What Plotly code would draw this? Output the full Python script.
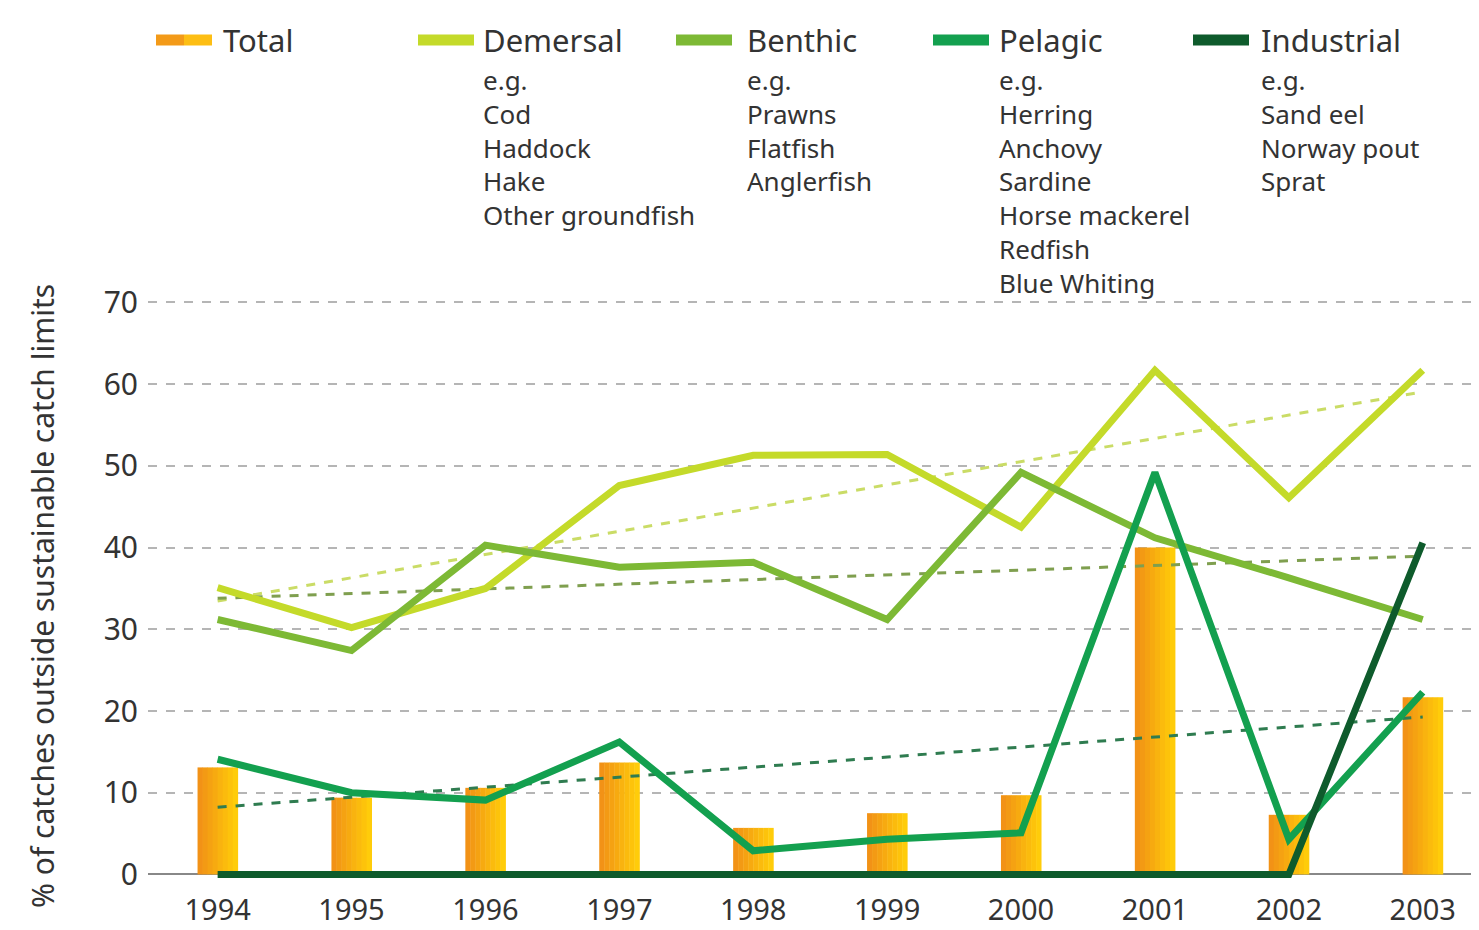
import numpy as np
import plotly.graph_objects as go

years = [1994, 1995, 1996, 1997, 1998, 1999, 2000, 2001, 2002, 2003]
total = [13.1, 9.4, 10.6, 13.7, 5.7, 7.5, 9.7, 40.0, 7.3, 21.7]
demersal = [35.1, 30.2, 35.0, 47.6, 51.3, 51.4, 42.5, 61.7, 46.1, 61.7]
benthic = [31.2, 27.4, 40.3, 37.6, 38.2, 31.2, 49.2, 41.2, 36.3, 31.2]
pelagic = [14.1, 10.0, 9.1, 16.2, 2.9, 4.3, 5.1, 49.2, 4.3, 22.3]
industrial = [0, 0, 0, 0, 0, 0, 0, 0, 0, 40.6]

y_ticks = [0, 10, 20, 30, 40, 50, 60, 70]

legend_titles = ["Total", "Demersal", "Benthic", "Pelagic", "Industrial"]
legend_examples = [
    [],
    ["e.g.", "Cod", "Haddock", "Hake", "Other groundfish"],
    ["e.g.", "Prawns", "Flatfish", "Anglerfish"],
    ["e.g.", "Herring", "Anchovy", "Sardine", "Horse mackerel", "Redfish", "Blue Whiting"],
    ["e.g.", "Sand eel", "Norway pout", "Sprat"],
]

C_DEM = "#C4DA2A"
C_BEN = "#7DB935"
C_PEL = "#13A04F"
C_IND = "#0E5B2C"
C_DEM_T = "#CADC66"
C_BEN_T = "#7F9F4F"
C_PEL_T = "#2F7C50"
FONT = "Noto Sans"
TXT = "#333333"

W, H = 1479, 930
L, R, T, B = 140, 0, 292, 57
PW, PH = W - L - R, H - T - B


def px(xp):
    return (xp - L) / PW


def py(yp):
    return (H - B - yp) / PH


fig = go.Figure()

# gradient-like bars: thin slices from orange to yellow
bar_w = 0.3
n_sl = 8
c0 = np.array([242, 146, 22])
c1 = np.array([255, 204, 10])
for i in range(n_sl):
    f = i / (n_sl - 1)
    c = (c0 * (1 - f) + c1 * f).astype(int)
    fig.add_trace(go.Bar(
        x=years, y=total, width=bar_w / n_sl + 0.003,
        offset=-bar_w / 2 + i * bar_w / n_sl,
        marker=dict(color=f"rgb({c[0]},{c[1]},{c[2]})", line=dict(width=0)),
        showlegend=False, hoverinfo="skip"))

# trend lines (linear regressions of each series)
xs = np.array(years, dtype=float)
for series, col in [(demersal, C_DEM_T), (benthic, C_BEN_T), (pelagic, C_PEL_T)]:
    k, b0 = np.polyfit(xs, np.array(series), 1)
    fig.add_trace(go.Scatter(
        x=[years[0], years[-1]], y=[k * years[0] + b0, k * years[-1] + b0],
        mode="lines", line=dict(color=col, width=3, dash="dash"),
        showlegend=False, hoverinfo="skip"))

for series, col, name in [(demersal, C_DEM, "Demersal"), (benthic, C_BEN, "Benthic"),
                          (pelagic, C_PEL, "Pelagic"), (industrial, C_IND, "Industrial")]:
    fig.add_trace(go.Scatter(x=years, y=series, mode="lines", name=name,
                             line=dict(color=col, width=7), showlegend=False))

# custom legend
sw_x = [148, 410, 668, 925, 1185]
txt_x = [213, 473, 737, 989, 1251]
sw_cols = [None, C_DEM, C_BEN, C_PEL, C_IND]
shapes = []
annotations = []
for i, title in enumerate(legend_titles):
    if i == 0:
        shapes.append(dict(type="line", xref="paper", yref="paper",
                           x0=px(sw_x[i]), x1=px(sw_x[i] + 28), y0=py(32), y1=py(32),
                           line=dict(color="#F39A18", width=11)))
        shapes.append(dict(type="line", xref="paper", yref="paper",
                           x0=px(sw_x[i] + 28), x1=px(sw_x[i] + 56), y0=py(32), y1=py(32),
                           line=dict(color="#FDBE14", width=11)))
    else:
        shapes.append(dict(type="line", xref="paper", yref="paper",
                           x0=px(sw_x[i]), x1=px(sw_x[i] + 56), y0=py(32), y1=py(32),
                           line=dict(color=sw_cols[i], width=11)))
    annotations.append(dict(text=title, xref="paper", yref="paper",
                            x=px(txt_x[i]), y=py(32), xanchor="left", yanchor="middle",
                            showarrow=False, font=dict(family=FONT, size=31, color=TXT)))
    if legend_examples[i]:
        annotations.append(dict(text="<br>".join(legend_examples[i]), xref="paper", yref="paper",
                                x=px(txt_x[i]), y=py(52), xanchor="left", yanchor="top",
                                align="left", showarrow=False,
                                font=dict(family=FONT, size=26, color=TXT)))

annotations.append(dict(text="% of catches outside sustainable catch limits",
                        xref="paper", yref="paper", x=px(34), y=py(588),
                        xanchor="center", yanchor="middle", textangle=-90,
                        showarrow=False, font=dict(family=FONT, size=30, color=TXT)))

fig.update_layout(
    width=W, height=H,
    margin=dict(l=L, r=R, t=T, b=B),
    plot_bgcolor="white", paper_bgcolor="white",
    barmode="overlay",
    shapes=shapes, annotations=annotations,
    xaxis=dict(range=[1993.48, 2003.48], tickmode="array", tickvals=years,
               ticktext=[str(y) for y in years], showgrid=False, zeroline=False,
               showline=False, ticks="", ticklabelstandoff=9,
               tickfont=dict(family=FONT, size=29, color=TXT)),
    yaxis=dict(range=[-0.8, 70.3], tickmode="array", tickvals=y_ticks,
               showgrid=True, gridcolor="#B5B5B5", griddash="dash", gridwidth=1.5,
               zeroline=True, zerolinecolor="#888888", zerolinewidth=2,
               showline=False, ticks="", ticklabelstandoff=9,
               tickfont=dict(family=FONT, size=30, color=TXT)),
)

fig.write_html("out.html")
